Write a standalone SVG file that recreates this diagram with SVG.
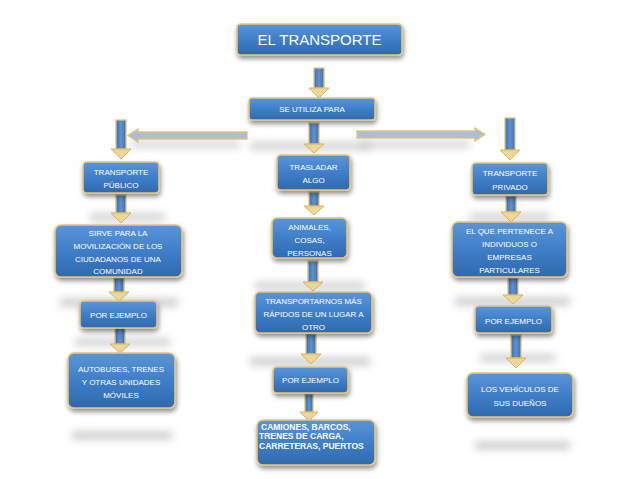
<svg xmlns="http://www.w3.org/2000/svg" width="638" height="479" viewBox="0 0 638 479">
<defs>
<linearGradient id="bg" x1="0" y1="0" x2="0" y2="1">
<stop offset="0" stop-color="#5b95d8"/>
<stop offset="0.5" stop-color="#3f7ec8"/>
<stop offset="1" stop-color="#2f69b0"/>
</linearGradient>
<linearGradient id="sg" x1="0" y1="0" x2="1" y2="0">
<stop offset="0" stop-color="#3b6fb0"/>
<stop offset="0.5" stop-color="#5e92d0"/>
<stop offset="1" stop-color="#3b6fb0"/>
</linearGradient>
<filter id="sh" x="-20%" y="-30%" width="140%" height="180%">
<feGaussianBlur in="SourceAlpha" stdDeviation="2.5"/>
<feOffset dx="1" dy="3" result="b"/>
<feComponentTransfer><feFuncA type="linear" slope="0.45"/></feComponentTransfer>
<feMerge><feMergeNode/><feMergeNode in="SourceGraphic"/></feMerge>
</filter>
<filter id="blur" x="-30%" y="-300%" width="160%" height="700%">
<feGaussianBlur stdDeviation="4"/>
</filter>
</defs>
<style>
.box{fill:url(#bg);stroke:#e6c57a;stroke-width:1.6;filter:url(#sh)}
.t{font-family:"Liberation Sans",Arial,sans-serif;font-size:8px;fill:#ffffff;text-anchor:middle}
.tb{font-family:"Liberation Sans",Arial,sans-serif;font-size:8.5px;font-weight:bold;fill:#ffffff}
.shaft{fill:url(#sg);stroke:#e3c273;stroke-width:1.3}
.head{fill:#ecd79a;stroke:#d9b45e;stroke-width:1}
.harr{fill:#a9bedb;stroke:#e3c273;stroke-width:1.3}
.ghost{fill:#c4c4c4;filter:url(#blur)}
</style>

<g id="shadows">
<rect class="ghost" x="250" y="143" width="120" height="6"/>
<rect class="ghost" x="130" y="142" width="110" height="5"/>
<rect class="ghost" x="360" y="142" width="110" height="5"/>
<rect class="ghost" x="90" y="214" width="75" height="6"/>
<rect class="ghost" x="470" y="214" width="80" height="6"/>
<rect class="ghost" x="60" y="299" width="118" height="7"/>
<rect class="ghost" x="255" y="283" width="110" height="6"/>
<rect class="ghost" x="455" y="298" width="115" height="7"/>
<rect class="ghost" x="75" y="339" width="95" height="6"/>
<rect class="ghost" x="250" y="358" width="120" height="7"/>
<rect class="ghost" x="480" y="355" width="75" height="6"/>
<rect class="ghost" x="72" y="432" width="100" height="7"/>
<rect class="ghost" x="475" y="442" width="95" height="7"/>
</g>

<g id="connectors">
<rect class="shaft" x="314" y="68" width="10" height="20"/>
<polygon class="head" points="309,88 329,88 319,98"/>
<rect class="shaft" x="309" y="123" width="10" height="21"/>
<polygon class="head" points="304,144 324,144 314,153"/>
<polygon class="harr" points="247,132 138,132 138,129 128,135.5 138,142 138,139 247,139"/>
<polygon class="harr" points="357,131 475,131 475,128 485,134.5 475,141 475,138 357,138"/>
<rect class="shaft" x="116" y="120" width="10" height="29"/>
<polygon class="head" points="111,149 131,149 121,159"/>
<rect class="shaft" x="116" y="195" width="10" height="18"/>
<polygon class="head" points="111,213 131,213 121,223"/>
<rect class="shaft" x="114" y="278" width="10" height="14"/>
<polygon class="head" points="109,292 129,292 119,301"/>
<rect class="shaft" x="115" y="328" width="10" height="16"/>
<polygon class="head" points="110,344 130,344 120,353"/>
<rect class="shaft" x="309" y="192" width="10" height="14"/>
<polygon class="head" points="304,206 324,206 314,215"/>
<rect class="shaft" x="308" y="261" width="10" height="21"/>
<polygon class="head" points="303,282 323,282 313,291"/>
<rect class="shaft" x="306" y="334" width="10" height="20"/>
<polygon class="head" points="301,354 321,354 311,364"/>
<rect class="shaft" x="305" y="394" width="8" height="18"/>
<polygon class="head" points="300,412 318,412 309,421"/>
<rect class="shaft" x="505" y="118" width="10" height="32"/>
<polygon class="head" points="500,150 520,150 510,160"/>
<rect class="shaft" x="506" y="196" width="10" height="16"/>
<polygon class="head" points="501,212 521,212 511,222"/>
<rect class="shaft" x="508" y="278" width="10" height="17"/>
<polygon class="head" points="503,295 523,295 513,304"/>
<rect class="shaft" x="511" y="335" width="10" height="23"/>
<polygon class="head" points="506,358 526,358 516,368"/>
</g>

<g id="title">
<rect class="box" x="237" y="24" width="165" height="31" rx="4"/>
<text class="t" x="319.5" y="45" style="font-size:15px">EL TRANSPORTE</text>
</g>
<g id="se-utiliza">
<rect class="box" x="249" y="98" width="126" height="22" rx="3"/>
<text class="t" x="312" y="112">SE UTILIZA PARA</text>
</g>
<g id="publico">
<rect class="box" x="83" y="162" width="76" height="31" rx="4"/>
<text class="t" x="121" y="175">TRANSPORTE</text>
<text class="t" x="121" y="188">PÚBLICO</text>
</g>
<g id="sirve">
<rect class="box" x="55" y="225" width="127" height="52" rx="6"/>
<text class="t" x="118" y="236">SIRVE PARA LA</text>
<text class="t" x="118" y="249">MOVILIZACIÓN DE LOS</text>
<text class="t" x="118" y="262">CIUDADANOS DE UNA</text>
<text class="t" x="118" y="274">COMUNIDAD</text>
</g>
<g id="ejemplo-izq">
<rect class="box" x="80" y="301" width="77" height="27" rx="4"/>
<text class="t" x="118.5" y="318">POR EJEMPLO</text>
</g>
<g id="autobuses">
<rect class="box" x="68" y="353" width="107" height="55" rx="6"/>
<text class="t" x="121" y="372">AUTOBUSES, TRENES</text>
<text class="t" x="121" y="385">Y OTRAS UNIDADES</text>
<text class="t" x="121" y="398">MÓVILES</text>
</g>
<g id="trasladar">
<rect class="box" x="277" y="155" width="73" height="35" rx="4"/>
<text class="t" x="313.5" y="170">TRASLADAR</text>
<text class="t" x="313.5" y="183">ALGO</text>
</g>
<g id="animales">
<rect class="box" x="272" y="218" width="75" height="40" rx="5"/>
<text class="t" x="309.5" y="230">ANIMALES,</text>
<text class="t" x="309.5" y="243">COSAS,</text>
<text class="t" x="309.5" y="256">PERSONAS</text>
</g>
<g id="transportarnos">
<rect class="box" x="255" y="292" width="117" height="41" rx="5"/>
<text class="t" x="313.5" y="304">TRANSPORTARNOS MÁS</text>
<text class="t" x="313.5" y="317">RÁPIDOS DE UN LUGAR A</text>
<text class="t" x="313.5" y="330">OTRO</text>
</g>
<g id="ejemplo-centro">
<rect class="box" x="273" y="367" width="75" height="26" rx="4"/>
<text class="t" x="310.5" y="383">POR EJEMPLO</text>
</g>
<g id="camiones">
<rect class="box" x="257" y="420" width="118" height="45" rx="6"/>
<text class="tb" x="261" y="430">CAMIONES, BARCOS,</text>
<text class="tb" x="259" y="439">TRENES DE CARGA,</text>
<text class="tb" x="259" y="449">CARRETERAS, PUERTOS</text>
</g>
<g id="privado">
<rect class="box" x="472" y="163" width="76" height="32" rx="4"/>
<text class="t" x="510" y="176">TRANSPORTE</text>
<text class="t" x="510" y="190">PRIVADO</text>
</g>
<g id="pertenece">
<rect class="box" x="452" y="222" width="115" height="55" rx="6"/>
<text class="t" x="509.5" y="234">EL QUE PERTENECE A</text>
<text class="t" x="509.5" y="247">INDIVIDUOS O</text>
<text class="t" x="509.5" y="260">EMPRESAS</text>
<text class="t" x="509.5" y="273">PARTICULARES</text>
</g>
<g id="ejemplo-der">
<rect class="box" x="475" y="306" width="77" height="27" rx="4"/>
<text class="t" x="513.5" y="324">POR EJEMPLO</text>
</g>
<g id="vehiculos">
<rect class="box" x="467" y="373" width="106" height="44" rx="6"/>
<text class="t" x="520" y="392">LOS VEHÍCULOS DE</text>
<text class="t" x="520" y="406">SUS DUEÑOS</text>
</g>
</svg>
